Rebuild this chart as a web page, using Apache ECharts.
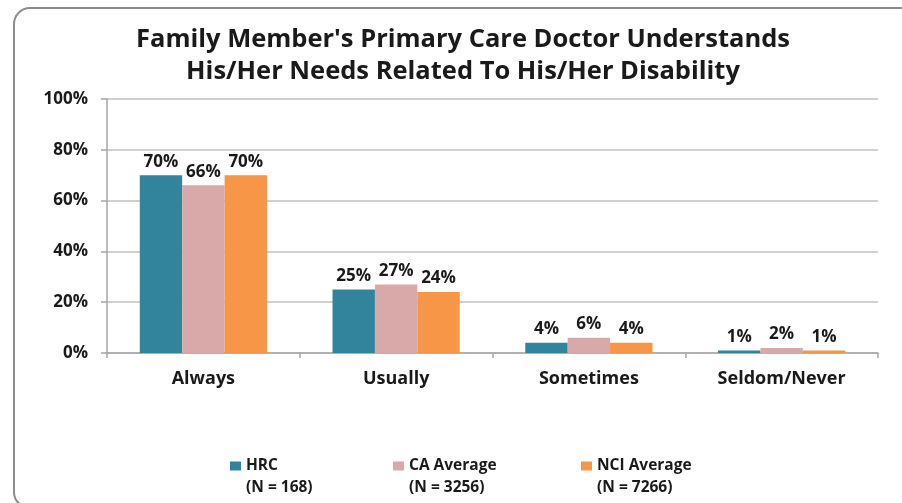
<!DOCTYPE html>
<html>
<head>
<meta charset="utf-8">
<title>Primary Care Doctor Understands Needs</title>
<script src="https://cdn.jsdelivr.net/npm/echarts@6/dist/echarts.min.js"></script>
<style>
  html, body { margin: 0; padding: 0; background: #ffffff; overflow: hidden; }
  #chart { width: 902px; height: 503px; }
</style>
</head>
<body>
<div id="chart"></div>
<script>
// Response categories on the x axis
var categories = ['Always', 'Usually', 'Sometimes', 'Seldom/Never'];

// Percent of respondents per group
var hrcValues = [70, 25, 4, 1];
var caValues  = [66, 27, 6, 2];
var nciValues = [70, 24, 4, 1];

// Series names (two-line legend entries)
var seriesNames = ['HRC\n(N = 168)', 'CA Average\n(N = 3256)', 'NCI Average\n(N = 7266)'];

// Y-axis ticks
var yTicks = [0, 20, 40, 60, 80, 100];

var FONT = '"Open Sans", sans-serif';
var TEXT = '#1a1a1a';
var colors = ['#31849B', '#D9A9A9', '#F79646'];

// Legend marker: square at the top, invisible point below so the
// marker lines up with the first line of the two-line label
var legendIcon = 'path://M0,0H11V9H0Z M0,31L0.001,31';

function barSeries(name, data, color) {
  return {
    name: name,
    type: 'bar',
    data: data,
    barGap: '0%',
    barCategoryGap: '34%',
    itemStyle: { color: color },
    label: {
      show: true,
      position: 'top',
      distance: 5,
      formatter: function (p) { return p.value + '%'; },
      color: TEXT,
      fontFamily: FONT,
      fontWeight: 'bold',
      fontSize: 17,
      backgroundColor: '#ffffff',
      padding: [0, 2, 0, 2]
    }
  };
}

function legendAt(left, name) {
  return {
    data: [name],
    left: left,
    top: 455,
    padding: 0,
    icon: legendIcon,
    itemWidth: 11,
    itemHeight: 31,
    itemGap: 0,
    selectedMode: false,
    textStyle: {
      color: TEXT,
      fontFamily: FONT,
      fontWeight: 'bold',
      fontSize: 15.5,
      lineHeight: 22
    }
  };
}

// Rounded frame around the chart, running off the right and bottom edges
var frameStyle = { fill: 'none', stroke: '#8c8c8c', lineWidth: 2 };
var frame = [
  { type: 'polyline', shape: { points: [[30, 8], [902, 8]] } },
  { type: 'polyline', shape: { points: [[14, 24], [14, 492]] } },
  { type: 'polyline', shape: { points: [[30, 508], [902, 508]] } },
  { type: 'arc', shape: { cx: 30, cy: 24, r: 16, startAngle: Math.PI, endAngle: Math.PI * 1.5 } },
  { type: 'arc', shape: { cx: 30, cy: 492, r: 16, startAngle: Math.PI * 0.5, endAngle: Math.PI } }
].map(function (g) {
  g.style = frameStyle;
  g.silent = true;
  g.z = -1;
  return g;
});

var chart = echarts.init(document.getElementById('chart'), null, { renderer: 'canvas' });

chart.setOption({
  animation: false,
  backgroundColor: '#ffffff',
  color: colors,
  title: {
    text: "Family Member's Primary Care Doctor Understands\nHis/Her Needs Related To His/Her Disability",
    left: 463,
    textAlign: 'center',
    top: 24,
    padding: 0,
    textStyle: {
      color: TEXT,
      fontFamily: FONT,
      fontWeight: 'bold',
      fontSize: 25.5,
      lineHeight: 32
    }
  },
  graphic: frame,
  legend: [
    legendAt(230, seriesNames[0]),
    legendAt(393, seriesNames[1]),
    legendAt(581, seriesNames[2])
  ],
  grid: { left: 107, right: 24, top: 99, bottom: 150 },
  xAxis: {
    type: 'category',
    data: categories,
    axisLine: { show: true, lineStyle: { color: '#a6a6a6', width: 1.5 } },
    axisTick: { show: true, alignWithLabel: false, length: 5, lineStyle: { color: '#a6a6a6', width: 1.5 } },
    axisLabel: {
      margin: 17,
      color: TEXT,
      fontFamily: FONT,
      fontWeight: 'bold',
      fontSize: 18
    }
  },
  yAxis: {
    type: 'value',
    min: yTicks[0],
    max: yTicks[yTicks.length - 1],
    interval: yTicks[1] - yTicks[0],
    axisLine: { show: true, lineStyle: { color: '#a6a6a6', width: 1.5 } },
    axisTick: { show: true, length: 6, lineStyle: { color: '#a6a6a6', width: 1.5 } },
    splitLine: { show: true, lineStyle: { color: '#c0c0c0', width: 1.5 } },
    axisLabel: {
      margin: 19,
      color: TEXT,
      fontFamily: FONT,
      fontWeight: 'bold',
      fontSize: 17,
      formatter: function (v) { return v + '%'; }
    }
  },
  series: [
    barSeries(seriesNames[0], hrcValues, colors[0]),
    barSeries(seriesNames[1], caValues, colors[1]),
    barSeries(seriesNames[2], nciValues, colors[2])
  ]
});
</script>
</body>
</html>
